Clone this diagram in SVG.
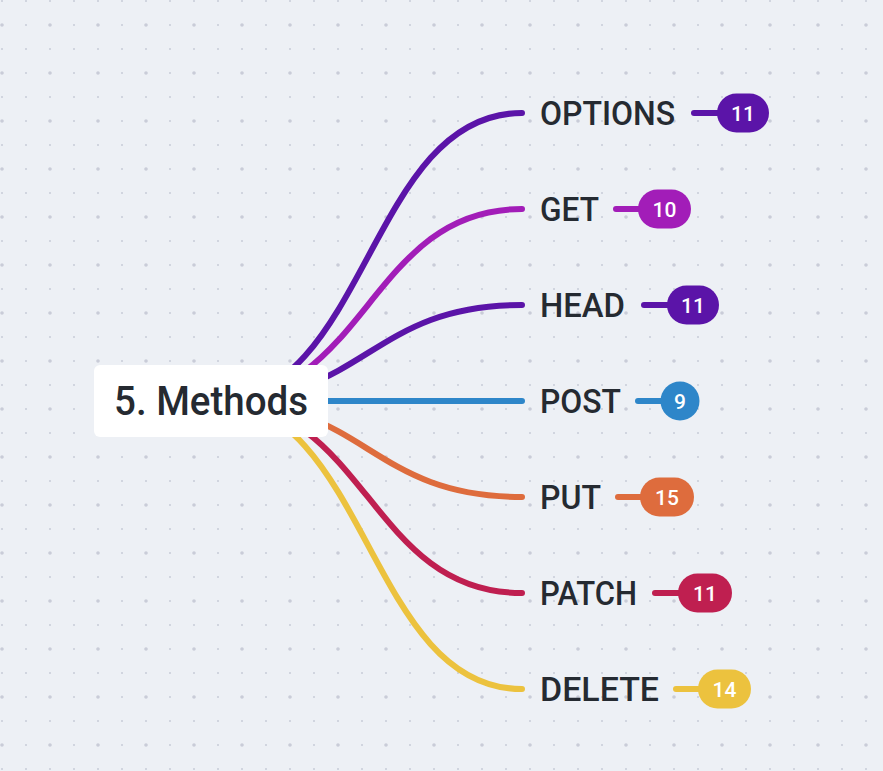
<svg xmlns="http://www.w3.org/2000/svg" width="883" height="771" viewBox="0 0 883 771">
  <style>
    .branch { fill: none; stroke-width: 6; stroke-linecap: round; }
    .stub { fill: none; stroke-width: 6; stroke-linecap: round; }
    .label { font-family: Roboto, "Liberation Sans", sans-serif; font-size: 33px; font-weight: 500; fill: #252a31; }
    .count { font-family: Roboto, "Liberation Sans", sans-serif; font-size: 21px; font-weight: 500; fill: #ffffff; text-anchor: middle; }
    .root-label { font-family: Roboto, "Liberation Sans", sans-serif; font-size: 41px; font-weight: 500; fill: #252a31; }
  </style>
  <defs>
    <pattern id="dots" x="0" y="0" width="48" height="48" patternUnits="userSpaceOnUse">
      <circle cx="2" cy="1" r="1" fill="#c9ccd8"/>
      <circle cx="26" cy="1" r="1" fill="#c9ccd8"/>
      <circle cx="2" cy="25" r="1.8" fill="#c9ccd8"/>
      <circle cx="26" cy="25" r="1" fill="#c9ccd8"/>
    </pattern>
  </defs>

  <!-- canvas -->
  <rect width="883" height="771" fill="#edf0f5"/>
  <rect width="883" height="771" fill="url(#dots)"/>

  <!-- branches from the root node to each method -->
  <g id="connectors">
    <path class="branch" stroke="#5b14a8" d="M213 401 C368 401 368 113 522 113"/>
    <path class="branch" stroke="#a21db8" d="M213 401 C368 401 368 209 522 209"/>
    <path class="branch" stroke="#5b14a8" d="M213 401 C368 401 368 305 522 305"/>
    <path class="branch" stroke="#2e86c9" d="M213 401 L522 401"/>
    <path class="branch" stroke="#de6c3d" d="M213 401 C368 401 368 497 522 497"/>
    <path class="branch" stroke="#bf1f50" d="M213 401 C368 401 368 593 522 593"/>
    <path class="branch" stroke="#ecc23e" d="M213 401 C368 401 368 689 522 689"/>
  </g>

  <!-- root node -->
  <g id="node-methods">
    <rect x="94" y="365" width="234" height="72" rx="6" fill="#ffffff"/>
    <text class="root-label" x="114" y="414.5" textLength="194" lengthAdjust="spacingAndGlyphs">5. Methods</text>
  </g>

  <g id="node-options">
    <text class="label" x="540" y="124.5" textLength="135" lengthAdjust="spacingAndGlyphs">OPTIONS</text>
    <line class="stub" stroke="#5b14a8" x1="694" y1="113" x2="720" y2="113"/>
    <rect x="717" y="93.5" width="52" height="39" rx="19.5" fill="#5b14a8"/>
    <text class="count" x="743" y="120.5">11</text>
  </g>

  <g id="node-get">
    <text class="label" x="540" y="220.5" textLength="59" lengthAdjust="spacingAndGlyphs">GET</text>
    <line class="stub" stroke="#a21db8" x1="616" y1="209" x2="642" y2="209"/>
    <rect x="638" y="189.5" width="53" height="39" rx="19.5" fill="#a21db8"/>
    <text class="count" x="664.5" y="216.5">10</text>
  </g>

  <g id="node-head">
    <text class="label" x="540" y="316.5" textLength="85" lengthAdjust="spacingAndGlyphs">HEAD</text>
    <line class="stub" stroke="#5b14a8" x1="644" y1="305" x2="670" y2="305"/>
    <rect x="667" y="285.5" width="52" height="39" rx="19.5" fill="#5b14a8"/>
    <text class="count" x="693" y="312.5">11</text>
  </g>

  <g id="node-post">
    <text class="label" x="540" y="412.5" textLength="81" lengthAdjust="spacingAndGlyphs">POST</text>
    <line class="stub" stroke="#2e86c9" x1="638" y1="401" x2="664" y2="401"/>
    <circle cx="680" cy="401" r="19.5" fill="#2e86c9"/>
    <text class="count" x="680" y="408.5">9</text>
  </g>

  <g id="node-put">
    <text class="label" x="540" y="508.5" textLength="61" lengthAdjust="spacingAndGlyphs">PUT</text>
    <line class="stub" stroke="#de6c3d" x1="618" y1="497" x2="644" y2="497"/>
    <rect x="640" y="477.5" width="54" height="39" rx="19.5" fill="#de6c3d"/>
    <text class="count" x="667" y="504.5">15</text>
  </g>

  <g id="node-patch">
    <text class="label" x="540" y="604.5" textLength="97" lengthAdjust="spacingAndGlyphs">PATCH</text>
    <line class="stub" stroke="#bf1f50" x1="655" y1="593" x2="681" y2="593"/>
    <rect x="678" y="573.5" width="54" height="39" rx="19.5" fill="#bf1f50"/>
    <text class="count" x="705" y="600.5">11</text>
  </g>

  <g id="node-delete">
    <text class="label" x="540" y="700.5" textLength="119" lengthAdjust="spacingAndGlyphs">DELETE</text>
    <line class="stub" stroke="#ecc23e" x1="676" y1="689" x2="702" y2="689"/>
    <rect x="698" y="669.5" width="53" height="39" rx="19.5" fill="#ecc23e"/>
    <text class="count" x="724.5" y="696.5">14</text>
  </g>
</svg>
